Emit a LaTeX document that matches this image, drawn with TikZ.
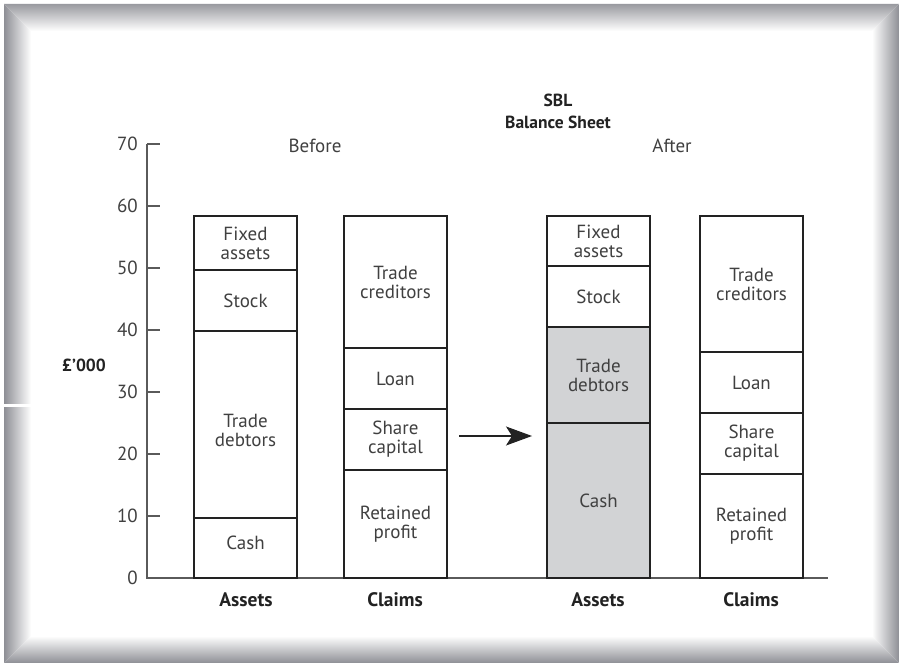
\documentclass[tikz,border=0pt]{standalone}
\usepackage{fontspec}
\setmainfont{PT Sans}
\usetikzlibrary{arrows.meta}
\definecolor{txt}{HTML}{404040}
\definecolor{axisc}{HTML}{5A5A5A}
\definecolor{boxc}{HTML}{222222}
\definecolor{shadec}{HTML}{D2D3D5}
\definecolor{bevel}{HTML}{8E8F95}
\tikzset{
  seg/.style={draw=boxc, line width=2pt, minimum width=103pt, inner sep=0pt,
    align=center, text=txt, font=\fontsize{19}{19}\selectfont},
  ticklab/.style={anchor=east, text=txt, inner sep=0pt, font=\fontsize{19}{19}\selectfont},
  boldlab/.style={text=boxc, inner sep=0pt, font=\fontsize{17.5}{20}\selectfont\bfseries},
  axlab/.style={text=boxc, inner sep=0pt, font=\fontsize{19.5}{20}\selectfont\bfseries},
  plainlab/.style={text=txt, inner sep=0pt, font=\fontsize{19}{19}\selectfont},
  axisline/.style={draw=axisc, line width=1.3pt}
}
\begin{document}
\begin{tikzpicture}[x=1pt,y=-1pt]
\useasboundingbox (0,0) rectangle (899,663);
\fill[white] (0,0) rectangle (899,663);
% bevelled frame
\shade[left color=bevel, right color=white] (4,4) -- (31,31) -- (31,636) -- (4,663) -- cycle;
\shade[top color=bevel!90, bottom color=white] (4,4) -- (899,4) -- (872,31) -- (31,31) -- cycle;
\shade[left color=white, right color=bevel] (872,31) -- (899,4) -- (899,663) -- (872,636) -- cycle;
\shade[top color=white, bottom color=bevel] (31,636) -- (872,636) -- (899,663) -- (4,663) -- cycle;
\fill[white] (4,404) rectangle (31,407);
% title
\node[boldlab] (title1) at (558,100) {SBL};
\node[boldlab] (title2) at (558,122) {Balance Sheet};
\node[plainlab] (before) at (315,146) {Before};
\node[plainlab] (after) at (672,146) {After};
\node[boldlab] (unit) at (84,365) {£'000};
% axes
\coordinate (origin) at (147,578);
\coordinate (ytop) at (147,144);
\coordinate (xend) at (828,578);
\draw[axisline] (ytop) -- (origin) -- (xend);
\foreach \v/\yy in {70/144,60/206,50/268,40/330,30/392,20/454,10/516}{
  \draw[axisline] (147,\yy) -- (160,\yy);
  \node[ticklab] (t\v) at (138,\yy) {\v};
}
\node[ticklab] (t0) at (138,578) {0};
% Before assets
\node[seg, minimum height=54pt] (bafix) at (245.5,243) {Fixed\\assets};
\node[seg, minimum height=61pt] (bastock) at (245.5,300.5) {Stock};
\node[seg, minimum height=187pt] (badeb) at (245.5,424.5) {};
\node[plainlab, align=center, font=\fontsize{19}{19}\selectfont] (badebt) at (245.5,430) {Trade\\debtors};
\node[seg, minimum height=60pt] (bacash) at (245.5,548) {};
\node[plainlab] (bacasht) at (245.5,543) {Cash};
% Before claims
\node[seg, minimum height=132pt] (bccred) at (395.5,282) {Trade\\creditors};
\node[seg, minimum height=61pt] (bcloan) at (395.5,378.5) {Loan};
\node[seg, minimum height=61pt] (bcshare) at (395.5,439.5) {Share\\capital};
\node[seg, minimum height=108pt] (bcret) at (395.5,524) {Retained\\profit};
% After assets
\node[seg, minimum height=50pt] (aafix) at (598.5,241) {Fixed\\assets};
\node[seg, minimum height=61pt] (aastock) at (598.5,296.5) {Stock};
\node[seg, minimum height=96pt, fill=shadec] (aadeb) at (598.5,375) {Trade\\debtors};
\node[seg, minimum height=155pt, fill=shadec] (aacash) at (598.5,500.5) {Cash};
% After claims
\node[seg, minimum height=136pt] (accred) at (751.5,284) {Trade\\creditors};
\node[seg, minimum height=61pt] (acloan) at (751.5,382.5) {Loan};
\node[seg, minimum height=61pt] (acshare) at (751.5,443.5) {Share\\capital};
\node[seg, minimum height=104pt] (acret) at (751.5,526) {Retained\\profit};
% bottom labels
\node[axlab] (l1) at (246,600) {Assets};
\node[axlab] (l2) at (395,600) {Claims};
\node[axlab] (l3) at (598,600) {Assets};
\node[axlab] (l4) at (751,600) {Claims};
% arrow
\draw[boxc, line width=1.1pt, -{Stealth[length=26pt,width=19pt,inset=6pt]}, shorten <=11pt, shorten >=14pt] (bcshare.east |- 0,436) -- (aacash.west |- 0,436);
\end{tikzpicture}
\end{document}
